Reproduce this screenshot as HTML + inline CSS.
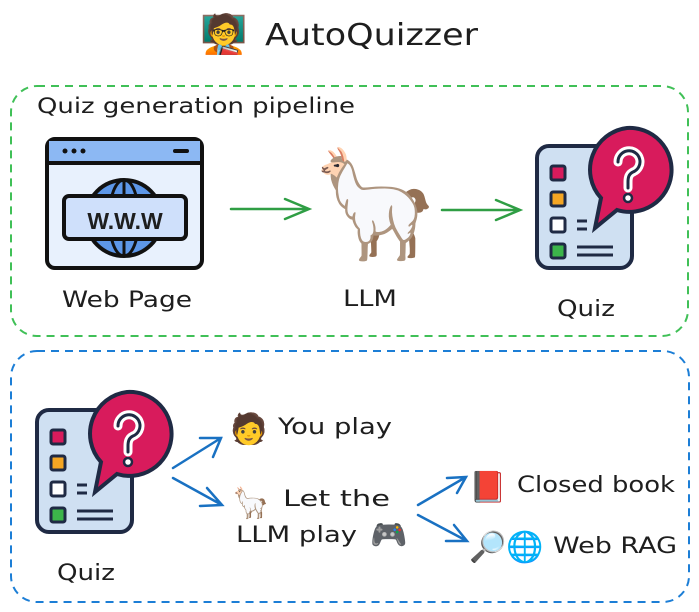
<!DOCTYPE html>
<html><head><meta charset="utf-8"><style>
html,body{margin:0;padding:0;background:#fff;width:699px;height:612px;overflow:hidden}
svg text{font-family:"Comic Sans MS","DejaVu Sans","Liberation Sans","Noto Sans CJK JP",sans-serif;fill:#1e1e1e}
</style></head><body>
<svg width="699" height="612" viewBox="0 0 699 612" xmlns="http://www.w3.org/2000/svg">
<defs>
<g id="quiz">
 <rect x="2" y="18" width="95" height="122" rx="12" fill="#cfe0f2" stroke="#1f2a44" stroke-width="4"/>
 <rect x="16" y="38" width="14" height="14" rx="2" fill="#d81b5c" stroke="#1f2a44" stroke-width="3"/>
 <rect x="16" y="64" width="14" height="14" rx="2" fill="#f5a623" stroke="#1f2a44" stroke-width="3"/>
 <rect x="16" y="90" width="14" height="14" rx="2" fill="#fff" stroke="#1f2a44" stroke-width="3"/>
 <rect x="16" y="116" width="14" height="14" rx="2" fill="#3cb54a" stroke="#1f2a44" stroke-width="3"/>
 <path d="M42 93h10M42 101h10M42 119h36M42 127h36" stroke="#1f2a44" stroke-width="3"/>
 <path d="M92 0a42 42 0 1 1 -10 82 l-22 18 6-30 a42 42 0 0 1 26-70z" fill="#d81b5c" stroke="#1f2a44" stroke-width="4"/>
 <path d="M83 34a11 11 0 1 1 15 10c-4 2-5 5-5 10v6" fill="none" stroke="#fff" stroke-width="9" stroke-linecap="round"/>
 <path d="M83 34a11 11 0 1 1 15 10c-4 2-5 5-5 10v6" fill="none" stroke="#1f2a44" stroke-width="3" stroke-linecap="round"/>
 <circle cx="93" cy="70" r="4" fill="#fff" stroke="#1f2a44" stroke-width="2.5"/>
</g>
</defs>
<!-- title -->
<text x="200" y="47" font-size="38">🧑‍🏫</text>
<text x="265" y="45" font-size="30" textLength="213" lengthAdjust="spacingAndGlyphs">AutoQuizzer</text>
<!-- green box -->
<rect x="11" y="86" width="677" height="250" rx="26" fill="none" stroke="#40c057" stroke-width="2" stroke-dasharray="8 6"/>
<text x="37" y="113" font-size="21" textLength="318" lengthAdjust="spacingAndGlyphs">Quiz generation pipeline</text>
<!-- web icon -->
<g>
 <rect x="47" y="139" width="155" height="129" rx="8" fill="#e8f1fd" stroke="#111" stroke-width="4"/>
 <rect x="49" y="141" width="151" height="21" fill="#8cb8f3"/>
 <path d="M47 163h155" stroke="#111" stroke-width="4"/>
 <circle cx="65" cy="151" r="2.5" fill="#111"/><circle cx="74" cy="151" r="2.5" fill="#111"/><circle cx="83" cy="151" r="2.5" fill="#111"/>
 <path d="M175 151h12" stroke="#111" stroke-width="4" stroke-linecap="round"/>
 <circle cx="124" cy="218" r="38" fill="#5d97e8" stroke="#111" stroke-width="4"/>
 <ellipse cx="124" cy="218" rx="15" ry="38" fill="none" stroke="#111" stroke-width="3"/>
 <path d="M124 180v76" stroke="#111" stroke-width="3"/>
 <rect x="64" y="196" width="122" height="43" rx="5" fill="#cfe0fb" stroke="#111" stroke-width="4"/>
 <text x="125" y="229" font-size="23" font-weight="bold" text-anchor="middle" style="font-family:'Liberation Sans',sans-serif">W.W.W</text>
</g>
<text x="62" y="307" font-size="22" textLength="130" lengthAdjust="spacingAndGlyphs">Web Page</text>
<!-- arrows green -->
<g stroke="#2f9e44" stroke-width="2.5" fill="none" stroke-linecap="round">
 <path d="M231 209h78M285 199l24 10-24 10"/>
 <path d="M442 210h78M496 200l24 10-24 10"/>
</g>
<text x="310" y="240" font-size="105">🦙</text>
<text x="343" y="306" font-size="22" textLength="54" lengthAdjust="spacingAndGlyphs">LLM</text>
<use href="#quiz" transform="translate(535,128)"/>
<text x="557" y="316" font-size="22" textLength="58" lengthAdjust="spacingAndGlyphs">Quiz</text>
<!-- blue box -->
<rect x="11" y="351" width="678" height="251" rx="26" fill="none" stroke="#1c7ed6" stroke-width="2" stroke-dasharray="8 6"/>
<use href="#quiz" transform="translate(35,392)"/>
<text x="57" y="580" font-size="22" textLength="58" lengthAdjust="spacingAndGlyphs">Quiz</text>
<g stroke="#1971c2" stroke-width="2.5" fill="none" stroke-linecap="round">
 <path d="M173 468l48-30M200 438l21 0-8 19"/>
 <path d="M173 478l49 27M207 488l15 17-22 1"/>
 <path d="M418 505l48-28M447 478l19-1-9 16"/>
 <path d="M418 515l49 26M454 525l13 16-21 0"/>
</g>
<text x="230" y="439" font-size="30">🧑</text>
<text x="278" y="434" font-size="22" textLength="114" lengthAdjust="spacingAndGlyphs">You play</text>
<text x="232" y="513" font-size="30">🦙</text>
<text x="283" y="506" font-size="22" textLength="107" lengthAdjust="spacingAndGlyphs">Let the</text>
<text x="236" y="542" font-size="22" textLength="121" lengthAdjust="spacingAndGlyphs">LLM play</text>
<text x="370" y="545" font-size="30">🎮</text>
<text x="469" y="497" font-size="30">📕</text>
<text x="517" y="492" font-size="22" textLength="158" lengthAdjust="spacingAndGlyphs">Closed book</text>
<text x="469" y="557" font-size="30">🔎🌐</text>
<text x="553" y="553" font-size="22" textLength="124" lengthAdjust="spacingAndGlyphs">Web RAG</text>
</svg>
</body></html>
